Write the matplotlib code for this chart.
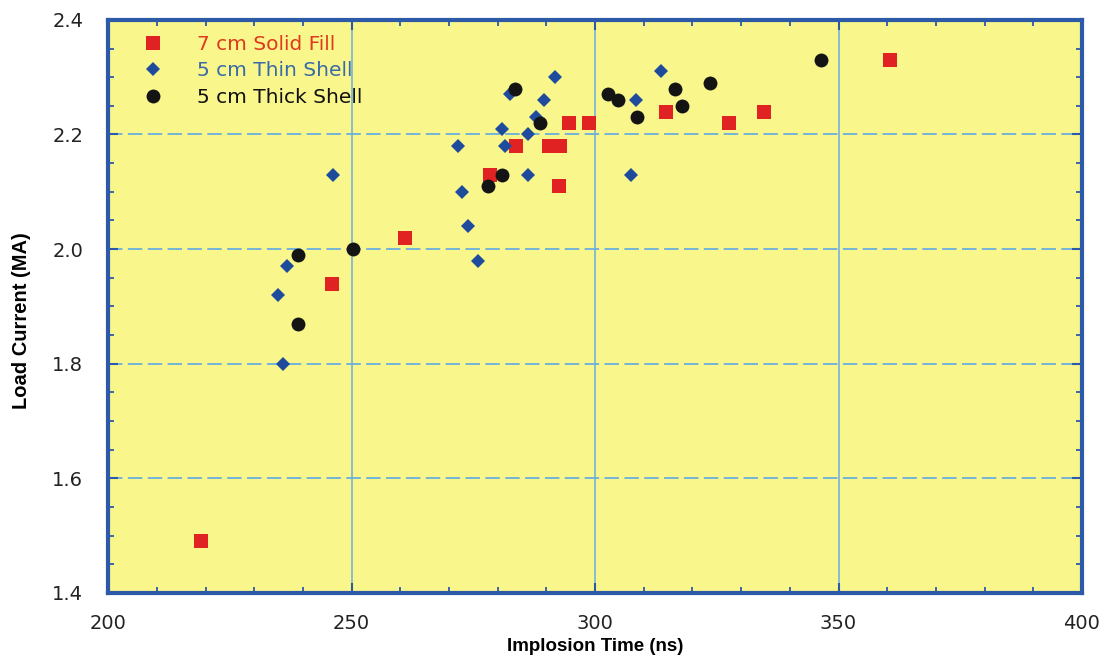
import matplotlib.pyplot as plt
from matplotlib.ticker import MultipleLocator

# implosion time (ns) vs load current (MA) for three load types
solid_t = [219, 246, 261, 278.5, 283.7, 290.5, 292.7, 292.5, 294.6, 298.7, 314.5, 327.6, 334.6, 360.5]
solid_i = [1.49, 1.94, 2.02, 2.13, 2.18, 2.18, 2.18, 2.11, 2.22, 2.22, 2.24, 2.22, 2.24, 2.33]

thin_t = [234.8, 235.8, 236.8, 246.1, 271.8, 272.6, 273.8, 275.9, 280.8, 281.4, 282.6,
          286.3, 286.3, 287.8, 289.6, 291.7, 307.3, 308.5, 313.5]
thin_i = [1.92, 1.80, 1.97, 2.13, 2.18, 2.10, 2.04, 1.98, 2.21, 2.18, 2.27,
          2.20, 2.13, 2.23, 2.26, 2.30, 2.13, 2.26, 2.31]

thick_t = [238.9, 238.9, 250.2, 277.9, 280.8, 283.5, 288.6, 302.6, 304.6, 308.7,
           316.5, 317.8, 323.5, 346.5]
thick_i = [1.99, 1.87, 2.00, 2.11, 2.13, 2.28, 2.22, 2.27, 2.26, 2.23,
           2.28, 2.25, 2.29, 2.33]

plt.rcParams['font.family'] = ['DejaVu Sans']

fig = plt.figure(figsize=(10.99, 6.58), dpi=100)
ax = fig.add_axes([0.0985, 0.0988, 0.886, 0.871])
ax.set_facecolor('#f9f68c')

frame = '#2c5aa8'
grid_c = '#6aaee0'
for yv in [1.6, 1.8, 2.0, 2.2]:
    ax.axhline(yv, color=grid_c, lw=1.3, ls=(0, (8, 3)), zorder=1)
for xv in [250, 300, 350]:
    ax.axvline(xv, color=grid_c, lw=1.1, zorder=1)

ax.plot(solid_t, solid_i, 's', color='#e02222', ms=9.8, mew=0, zorder=3, label='7 cm Solid Fill')
ax.plot(thin_t, thin_i, 'D', color='#1f4b9c', ms=7, mew=0, zorder=3, label='5 cm Thin Shell')
ax.plot(thick_t, thick_i, 'o', color='#141414', ms=10, mew=0, zorder=3, label='5 cm Thick Shell')

ax.set_xlim(200, 400)
ax.set_ylim(1.4, 2.4)
ax.xaxis.set_major_locator(MultipleLocator(50))
ax.xaxis.set_minor_locator(MultipleLocator(10))
ax.yaxis.set_major_locator(MultipleLocator(0.2))
ax.yaxis.set_minor_locator(MultipleLocator(0.05))
ax.yaxis.set_major_formatter(lambda v, p: f'{v:.1f}')

for s in ax.spines.values():
    s.set_color(frame)
    s.set_linewidth(3)
ax.tick_params(which='both', direction='in', top=True, right=True, color=frame,
               labelsize=14, labelcolor='#222222')
ax.tick_params(which='major', length=7, width=1.5)
ax.tick_params(which='minor', length=4, width=1.3)
ax.tick_params(axis='x', which='major', pad=15)
ax.tick_params(axis='y', which='major', pad=18)

ax.set_xlabel('Implosion Time (ns)', family='Liberation Sans', fontsize=13.5,
              fontweight='bold', labelpad=4)
ax.set_ylabel('Load Current (MA)', family='Liberation Sans', fontsize=14.5,
              fontweight='bold')
ax.yaxis.set_label_coords(-0.079, 0.475)

leg = ax.legend(loc='upper left', bbox_to_anchor=(0.015, 1.005), frameon=False, fontsize=14.5,
                handletextpad=1.6, labelspacing=0.36, handlelength=1.2)
for txt, c in zip(leg.get_texts(), ['#e03a1e', '#3a6aa8', '#111111']):
    txt.set_color(c)

fig.savefig('out.png', dpi=100)
